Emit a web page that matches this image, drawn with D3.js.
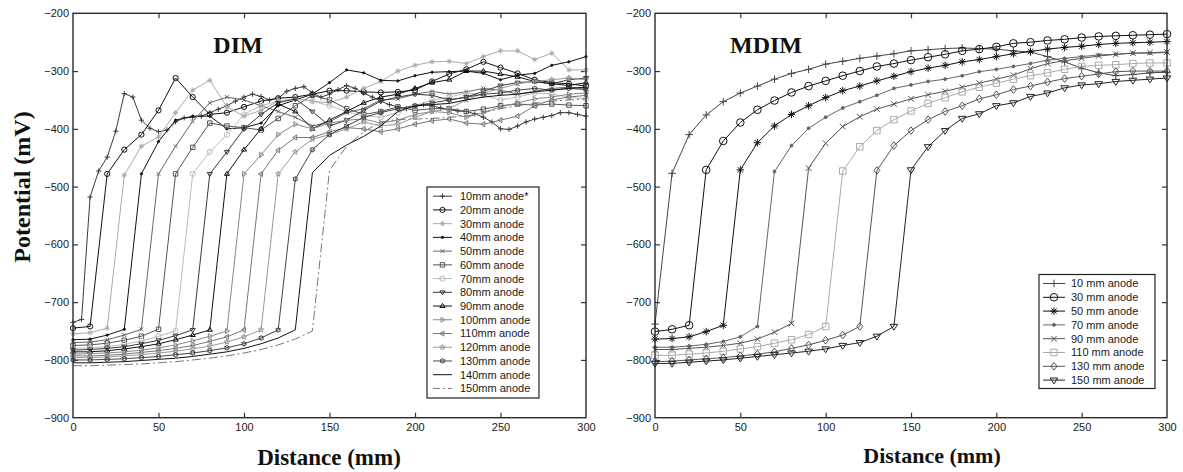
<!DOCTYPE html>
<html>
<head>
<meta charset="utf-8">
<script src="https://cdn.jsdelivr.net/npm/d3@7"></script>
<style>
  html, body { margin: 0; padding: 0; background: #fff; }
  svg { display: block; }
</style>
</head>
<body>
<svg id="chart" width="1183" height="472"></svg>
<script>
// ---- Distances (mm) ----
const distance10 = [0,10,20,30,40,50,60,70,80,90,100,110,120,130,140,150,
  160,170,180,190,200,210,220,230,240,250,260,270,280,290,300];
const distance5 = [0,5,10,15,20,25,30,35,40,45,50,55,60,65,70,75,80,85,90,95,
  100,105,110,115,120,125,130,135,140,145,150,155,160,165,170,175,180,185,190,195,
  200,205,210,215,220,225,230,235,240,245,250,255,260,265,270,275,280,285,290,295,300];

// ---- Axis ticks ----
const xTicks = [0, 50, 100, 150, 200, 250, 300];
const yTicks = [-900, -800, -700, -600, -500, -400, -300, -200];

// ---- DIM potentials (mV) ----
const dim10 = [-735,-730,-518,-473,-449,-404,-339,-345,-385,-399,
  -405,-402,-388,-381,-380,-378,-372,-366,-360,-352,
  -345,-340,-344,-350,-347,-335,-330,-327,-338,-345,
  -340,-332,-325,-330,-338,-345,-352,-358,-362,-365,
  -362,-358,-360,-364,-367,-369,-370,-374,-380,-388,
  -400,-401,-395,-388,-383,-380,-377,-372,-372,-375,
  -378];
const dim20 = [-745,-742,-478,-436,-410,-368,-312,-345,-375,-372,
  -362,-352,-347,-345,-340,-334,-334,-336,-337,-336,
  -333,-318,-305,-297,-284,-294,-304,-315,-320,-322,-326];
const dim30 = [-755,-753,-745,-480,-430,-414,-372,-333,-316,-362,
  -378,-368,-352,-348,-352,-355,-345,-330,-318,-300,
  -290,-284,-283,-287,-275,-265,-265,-280,-269,-298,-298];
const dim40 = [-765,-764,-757,-747,-478,-422,-385,-378,-378,-400,
  -398,-390,-360,-350,-340,-320,-298,-303,-316,-317,
  -308,-302,-301,-300,-304,-315,-307,-304,-290,-284,-275];
const dim50 = [-770,-769,-765,-757,-747,-478,-430,-387,-355,-345,
  -350,-360,-370,-380,-395,-388,-372,-365,-350,-348,
  -340,-335,-340,-336,-330,-333,-340,-335,-330,-328,-330];
const dim60 = [-775,-774,-771,-766,-759,-747,-478,-432,-390,-395,
  -398,-402,-382,-360,-342,-350,-365,-375,-370,-362,
  -368,-365,-365,-370,-366,-360,-357,-359,-357,-359,-360];
const dim70 = [-780,-779,-777,-773,-767,-759,-750,-478,-440,-410,
  -375,-360,-352,-348,-352,-360,-370,-378,-380,-372,
  -360,-350,-345,-338,-342,-350,-345,-338,-340,-345,-348];
const dim80 = [-783,-782,-780,-777,-772,-766,-758,-748,-478,-440,
  -400,-375,-355,-348,-370,-395,-385,-368,-352,-345,
  -340,-342,-350,-345,-335,-325,-320,-318,-322,-315,-312];
const dim90 = [-786,-786,-784,-781,-777,-772,-765,-757,-748,-478,
  -436,-400,-357,-370,-400,-385,-370,-355,-345,-340,
  -330,-320,-315,-300,-300,-305,-310,-318,-322,-325,-320];
const dim100 = [-790,-789,-788,-786,-783,-779,-774,-767,-759,-750,
  -478,-445,-410,-392,-400,-390,-385,-383,-390,-385,
  -375,-370,-372,-380,-372,-362,-355,-348,-345,-340,-338];
const dim110 = [-793,-793,-792,-790,-787,-784,-780,-775,-768,-760,
  -748,-478,-437,-415,-415,-405,-398,-400,-405,-400,
  -392,-386,-383,-390,-392,-385,-378,-360,-350,-345,-342];
const dim120 = [-796,-796,-795,-793,-791,-788,-785,-781,-776,-769,
  -760,-748,-478,-440,-418,-410,-400,-388,-395,-392,
  -380,-370,-365,-350,-338,-330,-322,-318,-315,-312,-315];
const dim130 = [-800,-800,-799,-798,-796,-794,-791,-788,-784,-779,
  -772,-762,-748,-487,-436,-410,-395,-380,-372,-365,
  -360,-355,-350,-345,-340,-338,-333,-330,-333,-330,-332];
const dim140 = [-805,-805,-804,-803,-801,-799,-797,-794,-790,-786,
  -780,-772,-762,-748,-476,-446,-428,-413,-395,-370,
  -360,-358,-356,-350,-345,-342,-340,-336,-333,-330,-328];
const dim150 = [-810,-810,-809,-808,-807,-805,-803,-800,-797,-793,
  -788,-782,-774,-764,-750,-472,-430,-405,-388,-384,
  -383,-382,-380,-378,-372,-365,-360,-356,-352,-350,-348];

// ---- MDIM potentials (mV) ----
const mdim10 = [-738,-477,-410,-376,-353,-338,-326,-314,-304,-297,
  -288,-283,-278,-274,-270,-265,-263,-261,-260,-261,
  -262,-265,-267,-275,-284,-295,-303,-308,-306,-303,-302];
const mdim30 = [-751,-747,-740,-471,-421,-389,-367,-351,-337,-326,
  -317,-308,-300,-292,-287,-281,-276,-271,-265,-262,
  -258,-252,-250,-247,-245,-242,-240,-239,-238,-237,-236];
const mdim50 = [-764,-763,-760,-751,-740,-471,-424,-395,-375,-360,
  -346,-334,-326,-317,-309,-301,-295,-290,-284,-280,
  -275,-270,-266,-262,-259,-257,-254,-252,-251,-250,-249];
const mdim70 = [-778,-778,-776,-773,-768,-760,-742,-474,-429,-399,
  -380,-364,-353,-342,-330,-324,-318,-314,-308,-301,
  -297,-292,-287,-281,-278,-275,-272,-271,-269,-269,-268];
const mdim90 = [-782,-782,-780,-778,-775,-771,-764,-752,-737,-468,
  -425,-396,-379,-366,-357,-348,-341,-335,-328,-321,
  -314,-307,-296,-287,-282,-278,-274,-271,-269,-268,-267];
const mdim110 = [-792,-792,-790,-788,-785,-781,-777,-771,-765,-756,
  -742,-473,-431,-403,-384,-369,-356,-346,-336,-328,
  -321,-314,-308,-303,-297,-292,-290,-289,-287,-286,-286];
const mdim130 = [-803,-802,-800,-798,-796,-793,-790,-786,-780,-774,
  -766,-757,-742,-472,-429,-403,-384,-370,-360,-348,
  -341,-332,-326,-319,-313,-309,-305,-301,-300,-300,-300];
const mdim150 = [-806,-806,-804,-802,-800,-797,-794,-791,-788,-785,
  -781,-775,-770,-759,-742,-471,-431,-403,-382,-374,
  -360,-355,-344,-338,-329,-324,-322,-318,-316,-314,-312];

// ---- Series tables ----
const dimSeries = [
  { name: "10mm anode*", x: distance5, y: dim10, marker: "plus", color: "#3c3c3c" },
  { name: "20mm anode", x: distance10, y: dim20, marker: "circle", color: "#111" },
  { name: "30mm anode", x: distance10, y: dim30, marker: "asterisk", color: "#aaa" },
  { name: "40mm anode", x: distance10, y: dim40, marker: "dot", color: "#111" },
  { name: "50mm anode", x: distance10, y: dim50, marker: "cross", color: "#666" },
  { name: "60mm anode", x: distance10, y: dim60, marker: "square", color: "#555" },
  { name: "70mm anode", x: distance10, y: dim70, marker: "circle", color: "#bbb" },
  { name: "80mm anode", x: distance10, y: dim80, marker: "triDown", color: "#3a3a3a" },
  { name: "90mm anode", x: distance10, y: dim90, marker: "triUp", color: "#111" },
  { name: "100mm anode", x: distance10, y: dim100, marker: "triRight", color: "#888" },
  { name: "110mm anode", x: distance10, y: dim110, marker: "triLeft", color: "#777" },
  { name: "120mm anode", x: distance10, y: dim120, marker: "pentagram", color: "#999" },
  { name: "130mm anode", x: distance10, y: dim130, marker: "hexagram", color: "#444" },
  { name: "140mm anode", x: distance10, y: dim140, marker: "none", color: "#111" },
  { name: "150mm anode", x: distance10, y: dim150, marker: "none", color: "#777", dash: "9,3,2,3" }
];

const mdimSeries = [
  { name: "10 mm anode", x: distance10, y: mdim10, marker: "plus", color: "#444" },
  { name: "30 mm anode", x: distance10, y: mdim30, marker: "circle", color: "#111" },
  { name: "50 mm anode", x: distance10, y: mdim50, marker: "asterisk", color: "#111" },
  { name: "70 mm anode", x: distance10, y: mdim70, marker: "dot", color: "#666" },
  { name: "90 mm anode", x: distance10, y: mdim90, marker: "cross", color: "#555" },
  { name: "110 mm anode", x: distance10, y: mdim110, marker: "square", color: "#aaa" },
  { name: "130 mm anode", x: distance10, y: mdim130, marker: "diamond", color: "#555" },
  { name: "150 mm anode", x: distance10, y: mdim150, marker: "triDown", color: "#222" }
];

// ---- Marker shapes (outline style, centred on 0,0) ----
function starPath(n, outer, inner, rot) {
  const pts = [];
  for (let i = 0; i < n * 2; i++) {
    const r = i % 2 === 0 ? outer : inner;
    const a = rot + i * Math.PI / n;
    pts.push([r * Math.sin(a), -r * Math.cos(a)]);
  }
  return "M" + pts.map(p => p[0].toFixed(2) + "," + p[1].toFixed(2)).join("L") + "Z";
}
function markerPath(type, s) {
  switch (type) {
    case "plus": return `M${-s},0H${s}M0,${-s}V${s}`;
    case "cross": { const c = s * 0.75; return `M${-c},${-c}L${c},${c}M${-c},${c}L${c},${-c}`; }
    case "asterisk": { const c = s * 0.7;
      return `M${-s},0H${s}M0,${-s}V${s}M${-c},${-c}L${c},${c}M${-c},${c}L${c},${-c}`; }
    case "circle": return `M${s},0A${s},${s} 0 1,1 ${-s},0A${s},${s} 0 1,1 ${s},0Z`;
    case "dot": { const r = Math.max(1.1, s * 0.38);
      return `M${r},0A${r},${r} 0 1,1 ${-r},0A${r},${r} 0 1,1 ${r},0Z`; }
    case "square": { const c = s * 0.85; return `M${-c},${-c}H${c}V${c}H${-c}Z`; }
    case "diamond": return `M0,${-s}L${s * 0.8},0L0,${s}L${-s * 0.8},0Z`;
    case "triDown": return `M${-s},${-s * 0.55}L${s},${-s * 0.55}L0,${s}Z`;
    case "triUp": return `M${-s},${s * 0.55}L${s},${s * 0.55}L0,${-s}Z`;
    case "triRight": return `M${-s * 0.55},${-s}L${-s * 0.55},${s}L${s},0Z`;
    case "triLeft": return `M${s * 0.55},${-s}L${s * 0.55},${s}L${-s},0Z`;
    case "pentagram": return starPath(5, s * 1.1, s * 0.45, 0);
    case "hexagram": return starPath(6, s, s * 0.58, 0);
    default: return "";
  }
}

const svg = d3.select("#chart");
const plotTop = 13.3, plotBottom = 417.7;
const tickFont = "'Liberation Sans', Arial, sans-serif";
const serif = "'Liberation Serif', 'Times New Roman', serif";

function drawPanel(cfg) {
  const x = d3.scaleLinear().domain([0, 300]).range([cfg.left, cfg.right]);
  const y = d3.scaleLinear().domain([-900, -200]).range([plotBottom, plotTop]);
  const g = svg.append("g");

  // axes with inward ticks on all four sides
  const axB = g.append("g").attr("transform", `translate(0,${plotBottom})`)
    .call(d3.axisBottom(x).tickValues(xTicks).tickSize(-5).tickPadding(6));
  const axT = g.append("g").attr("transform", `translate(0,${plotTop})`)
    .call(d3.axisTop(x).tickValues(xTicks).tickSize(-5).tickFormat(""));
  const axL = g.append("g").attr("transform", `translate(${cfg.left},0)`)
    .call(d3.axisLeft(y).tickValues(yTicks).tickSize(-5).tickPadding(4));
  const axR = g.append("g").attr("transform", `translate(${cfg.right},0)`)
    .call(d3.axisRight(y).tickValues(yTicks).tickSize(-5).tickFormat(""));
  [axB, axT, axL, axR].forEach(a => {
    a.select(".domain").remove();
    a.selectAll(".tick line").attr("stroke", "#333").attr("stroke-width", 1.2);
    a.selectAll(".tick text").attr("font-family", tickFont).attr("font-size", 11).attr("fill", "#1a1a1a");
  });
  // hide end ticks that would sit on the frame
  [axB, axT].forEach(a => a.selectAll(".tick").filter(d => d === 0 || d === 300).select("line").remove());
  [axL, axR].forEach(a => a.selectAll(".tick").filter(d => d === -900 || d === -200).select("line").remove());

  // series lines and markers
  const line = d3.line().x(d => x(d[0])).y(d => y(d[1]));
  cfg.series.forEach(s => {
    const pts = s.x.map((xv, i) => [xv, s.y[i]]);
    g.append("path").attr("d", line(pts)).attr("fill", "none")
      .attr("stroke", s.color).attr("stroke-width", 1)
      .attr("stroke-dasharray", s.dash || null);
    if (s.marker !== "none") {
      const mp = markerPath(s.marker, cfg.markerSize);
      g.append("g").selectAll("path").data(pts).join("path")
        .attr("transform", d => `translate(${x(d[0])},${y(d[1])})`)
        .attr("d", mp)
        .attr("fill", s.marker === "dot" ? s.color : "none")
        .attr("stroke", s.color).attr("stroke-width", 1);
    }
  });

  // frame
  g.append("rect").attr("x", cfg.left).attr("y", plotTop)
    .attr("width", cfg.right - cfg.left).attr("height", plotBottom - plotTop)
    .attr("fill", "none").attr("stroke", "#2a2a2a").attr("stroke-width", 1.4);

  // panel title
  g.append("text").attr("x", cfg.titleX).attr("y", 53).attr("text-anchor", "middle")
    .attr("font-family", serif).attr("font-weight", "bold").attr("font-size", 24)
    .attr("fill", "#111").text(cfg.title);

  // x axis title
  g.append("text").attr("x", cfg.xLabelX).attr("y", cfg.xLabelY).attr("text-anchor", "middle")
    .attr("font-family", serif).attr("font-weight", "bold").attr("font-size", cfg.xLabelSize)
    .attr("fill", "#111").text("Distance (mm)");

  // legend
  const L = cfg.legend;
  const lg = g.append("g");
  lg.append("rect").attr("x", L.x).attr("y", L.y).attr("width", L.w).attr("height", L.h)
    .attr("fill", "#fff").attr("stroke", "#222").attr("stroke-width", 1.2);
  cfg.series.forEach((s, i) => {
    const cy = L.firstRow + i * L.rowGap;
    lg.append("line").attr("x1", L.lineX1).attr("x2", L.lineX2).attr("y1", cy).attr("y2", cy)
      .attr("stroke", s.color).attr("stroke-width", 1).attr("stroke-dasharray", s.dash ? "7,3,2,3" : null);
    if (s.marker !== "none") {
      lg.append("path").attr("transform", `translate(${(L.lineX1 + L.lineX2) / 2},${cy})`)
        .attr("d", markerPath(s.marker, cfg.markerSize))
        .attr("fill", s.marker === "dot" ? s.color : "none")
        .attr("stroke", s.color).attr("stroke-width", 1);
    }
    lg.append("text").attr("x", L.textX).attr("y", cy).attr("dy", "0.36em")
      .attr("font-family", tickFont).attr("font-size", 11).attr("fill", "#1a1a1a").text(s.name);
  });
}

drawPanel({
  left: 73, right: 586, series: dimSeries, markerSize: 2.6,
  title: "DIM", titleX: 238, xLabelX: 329, xLabelY: 465, xLabelSize: 23,
  legend: { x: 427, y: 187, w: 112, h: 211, firstRow: 196.2, rowGap: 13.73,
            lineX1: 433, lineX2: 452, textX: 460 }
});
drawPanel({
  left: 655, right: 1167, series: mdimSeries, markerSize: 3.8,
  title: "MDIM", titleX: 766, xLabelX: 932, xLabelY: 463, xLabelSize: 22,
  legend: { x: 1039, y: 274.5, w: 116, h: 114, firstRow: 283.5, rowGap: 13.8,
            lineX1: 1043, lineX2: 1065, textX: 1071 }
});

// shared y axis title
svg.append("text").attr("transform", "translate(30,187) rotate(-90)")
  .attr("text-anchor", "middle").attr("font-family", serif).attr("font-weight", "bold")
  .attr("font-size", 24).attr("fill", "#111").text("Potential (mV)");
</script>
</body>
</html>
